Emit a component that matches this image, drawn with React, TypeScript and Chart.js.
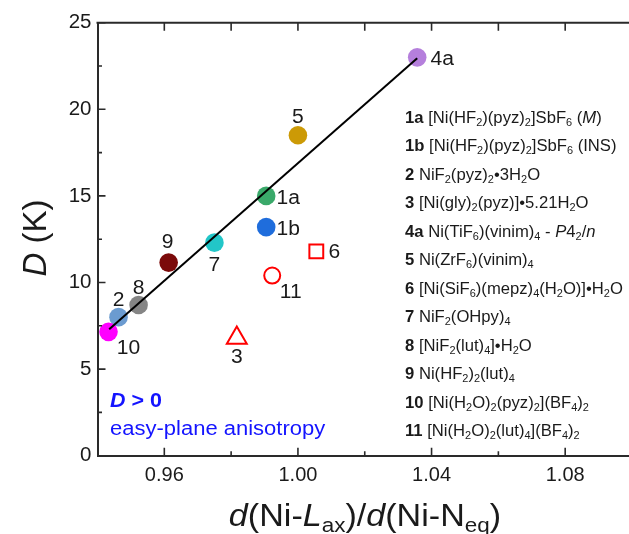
import React, { useEffect, useRef } from 'react';
import { Chart, registerables } from 'chart.js';

Chart.register(...registerables);

// ---------- data ----------
const COMPOUND_IDS = ['1a', '1b', '2', '3', '4a', '5', '6', '7', '8', '9', '10', '11'];
const RATIO_VALUES = [0.9905, 0.9905, 0.9463, 0.9817, 1.0357, 1.0, 1.0055, 0.975, 0.9523, 0.9613, 0.9433, 0.9923];
const D_VALUES = [15.0, 13.2, 8.0, 6.8, 23.0, 18.5, 11.8, 12.3, 8.7, 11.15, 7.15, 10.4];
const FIT_RATIO = [0.9435, 1.0357];
const FIT_D = [7.3, 22.95];

const X_TICKS = [0.96, 0.98, 1.0, 1.02, 1.04, 1.06, 1.08, 1.1];
const X_TICK_LABELS = ['0.96', '', '1.00', '', '1.04', '', '1.08', ''];
const Y_TICKS = [0, 2.5, 5, 7.5, 10, 12.5, 15, 17.5, 20, 22.5, 25];
const Y_TICK_LABELS = ['0', '', '5', '', '10', '', '15', '', '20', '', '25'];

const LEGEND_LABELS = [
  '**1a** [Ni(HF_2)(pyz)_2]SbF_6 (*M*)',
  '**1b** [Ni(HF_2)(pyz)_2]SbF_6 (INS)',
  '**2** NiF_2(pyz)_2•3H_2O',
  '**3** [Ni(gly)_2(pyz)]•5.21H_2O',
  '**4a** Ni(TiF_6)(vinim)_4 - *P*4_2/*n*',
  '**5** Ni(ZrF_6)(vinim)_4',
  '**6** [Ni(SiF_6)(mepz)_4(H_2O)]•H_2O',
  '**7** NiF_2(OHpy)_4',
  '**8** [NiF_2(lut)_4]•H_2O',
  '**9** Ni(HF_2)_2(lut)_4',
  '**10** [Ni(H_2O)_2(pyz)_2](BF_4)_2',
  '**11** [Ni(H_2O)_2(lut)_4](BF_4)_2',
];

const NOTE_LINE_1 = '***D* > 0**';
const NOTE_LINE_2 = 'easy-plane anisotropy';
const X_TITLE = '*d*(Ni-*L*_{ax})/*d*(Ni-N_{eq})';
const Y_TITLE = '*D* (K)';

// ---------- styles ----------
const FONT = '"Liberation Sans", Arial, Helvetica, sans-serif';
const POINT_COLORS: Record<string, string> = {
  '1a': '#3aa96a', '1b': '#1f6ddc', '2': '#6b9bd0', '3': '#ff0000', '4a': '#b57fdc', '5': '#cc9a06',
  '6': '#ff0000', '7': '#22c6c8', '8': '#858585', '9': '#7b0a0a', '10': '#ff00ff', '11': '#ff0000',
};
const POINT_STYLES: Record<string, string> = { '3': 'triangle', '6': 'rect', '11': 'circle' };
const OPEN_MARKERS = ['3', '6', '11'];
const POINT_RADII: Record<string, number> = { '3': 11.5, '6': 9.8, '11': 8 };
const LABEL_OFFSETS: Record<string, [number, number]> = {
  '1a': [22, 1], '1b': [22, 0.5], '2': [0, -18], '3': [0, 18.5], '4a': [25, 1], '5': [0, -19.5],
  '6': [18, 0], '7': [0, 21.5], '8': [0, -18], '9': [-1, -22], '10': [20, 14.7], '11': [18.5, 15.7],
};
const TEXT_COLOR = '#1a1a1a';
const AXIS_COLOR = '#2a2a2a';
const NOTE_COLOR = '#1414ff';

// ---------- rich text ----------
type Seg = { text: string; bold: boolean; italic: boolean; sub: boolean };
function parseRich(s: string): Seg[] {
  const segs: Seg[] = [];
  let bold = false, italic = false, buf = '';
  const flush = () => { if (buf) { segs.push({ text: buf, bold, italic, sub: false }); buf = ''; } };
  let i = 0;
  while (i < s.length) {
    if (s.startsWith('**', i)) { flush(); bold = !bold; i += 2; continue; }
    if (s[i] === '*') { flush(); italic = !italic; i += 1; continue; }
    if (s[i] === '_') {
      flush();
      let t = '';
      if (s[i + 1] === '{') { const e = s.indexOf('}', i); t = s.slice(i + 2, e); i = e + 1; }
      else { t = s[i + 1]; i += 2; }
      segs.push({ text: t, bold, italic, sub: true });
      continue;
    }
    buf += s[i]; i += 1;
  }
  flush();
  return segs;
}

function drawRich(ctx: CanvasRenderingContext2D, str: string, x: number, baseY: number, size: number,
  color: string, align: 'left' | 'center', sx: number, rot = 0) {
  const segs = parseRich(str);
  let w = 0;
  const items = segs.map((sg) => {
    const fs = sg.sub ? size * 0.66 : size;
    const font = `${sg.italic ? 'italic ' : ''}${sg.bold ? 'bold ' : ''}${fs}px ${FONT}`;
    ctx.font = font;
    const it = { text: sg.text, font, x: w, dy: sg.sub ? size * 0.2 : 0 };
    w += ctx.measureText(sg.text).width;
    return it;
  });
  ctx.save();
  ctx.translate(x, baseY);
  if (rot) ctx.rotate(rot);
  ctx.scale(sx, 1);
  ctx.fillStyle = color;
  ctx.textBaseline = 'alphabetic';
  ctx.textAlign = 'left';
  const x0 = align === 'center' ? -w / 2 : 0;
  items.forEach((it) => { ctx.font = it.font; ctx.fillText(it.text, x0 + it.x, it.dy); });
  ctx.restore();
}

const decorPlugin = {
  id: 'decor',
  afterDraw(chart: any) {
    const ctx: CanvasRenderingContext2D = chart.ctx;
    const { left, right, top, bottom } = chart.chartArea;
    const xs = chart.scales.x, ys = chart.scales.y;
    ctx.save();
    ctx.strokeStyle = AXIS_COLOR;
    ctx.lineWidth = 2;
    ctx.beginPath();
    ctx.moveTo(left - 1, top);
    ctx.lineTo(right + 20, top);
    ctx.stroke();
    ctx.lineWidth = 1.6;
    ctx.beginPath();
    X_TICKS.forEach((v, i) => {
      const px = xs.getPixelForValue(v);
      const len = X_TICK_LABELS[i] ? 8 : 4.5;
      ctx.moveTo(px, bottom); ctx.lineTo(px, bottom - len);
      ctx.moveTo(px, top); ctx.lineTo(px, top + 8);
    });
    Y_TICKS.forEach((v, i) => {
      const py = ys.getPixelForValue(v);
      const len = Y_TICK_LABELS[i] ? 8 : 4.5;
      ctx.moveTo(left, py); ctx.lineTo(left + len, py);
    });
    ctx.stroke();
    ctx.restore();

    // point labels
    const meta = chart.getDatasetMeta(1);
    COMPOUND_IDS.forEach((id, i) => {
      const el = meta.data[i];
      const [dx, dy] = LABEL_OFFSETS[id];
      drawRich(ctx, id, el.x + dx, el.y + dy + 19.5 * 0.36, 19.5, TEXT_COLOR, 'center', 1.08);
    });

    // legend text
    LEGEND_LABELS.forEach((s, i) => {
      drawRich(ctx, s, 405, 117 + 28.5 * i + 16 * 0.36, 16, TEXT_COLOR, 'left', 1.04);
    });

    // note
    drawRich(ctx, NOTE_LINE_1, 110, 400 + 19.5 * 0.36, 19.5, NOTE_COLOR, 'left', 1.1);
    drawRich(ctx, NOTE_LINE_2, 110, 428 + 20 * 0.36, 20, NOTE_COLOR, 'left', 1.1);

    // axis titles
    drawRich(ctx, X_TITLE, 365, 526, 31, TEXT_COLOR, 'center', 1.1);
    drawRich(ctx, Y_TITLE, 46, 238, 33, TEXT_COLOR, 'center', 1, -Math.PI / 2);
  },
};

export default function App() {
  const ref = useRef<HTMLCanvasElement>(null);
  useEffect(() => {
    if (!ref.current) return;
    const points = RATIO_VALUES.map((x, i) => ({ x, y: D_VALUES[i] }));
    const fit = FIT_RATIO.map((x, i) => ({ x, y: FIT_D[i] }));
    const chart = new Chart(ref.current, {
      type: 'scatter',
      data: {
        datasets: [
          {
            type: 'line',
            data: fit,
            borderColor: '#000000',
            borderWidth: 2,
            pointRadius: 0,
            fill: false,
          } as any,
          {
            data: points,
            pointStyle: COMPOUND_IDS.map((id) => POINT_STYLES[id] || 'circle') as any,
            pointRadius: COMPOUND_IDS.map((id) => POINT_RADII[id] || 9.3),
            pointBackgroundColor: COMPOUND_IDS.map((id) => (OPEN_MARKERS.includes(id) ? 'rgba(255,255,255,0)' : POINT_COLORS[id])),
            pointBorderColor: COMPOUND_IDS.map((id) => POINT_COLORS[id]),
            pointBorderWidth: COMPOUND_IDS.map((id) => (OPEN_MARKERS.includes(id) ? 2 : 0)),
          },
        ],
      },
      options: {
        animation: false,
        responsive: false,
        devicePixelRatio: 1,
        layout: { padding: { top: 22.7, right: 18, bottom: 0, left: 0 } },
        plugins: { legend: { display: false }, tooltip: { enabled: false } },
        scales: {
          x: {
            type: 'linear',
            min: 0.94,
            max: 1.1,
            afterBuildTicks: (s: any) => { s.ticks = X_TICKS.map((value) => ({ value })); },
            afterFit: (s: any) => { s.height = 534 - 455.7; },
            grid: { display: false, drawTicks: false },
            border: { display: true, color: AXIS_COLOR, width: 2 },
            ticks: {
              callback: (_v: any, i: number) => X_TICK_LABELS[i],
              font: { family: FONT, size: 20 },
              color: TEXT_COLOR,
              padding: 8,
              maxRotation: 0,
              autoSkip: false,
            },
          },
          y: {
            type: 'linear',
            min: 0,
            max: 25,
            afterBuildTicks: (s: any) => { s.ticks = Y_TICKS.map((value) => ({ value })); },
            afterFit: (s: any) => { s.width = 97.5; },
            grid: { display: false, drawTicks: false },
            border: { display: true, color: AXIS_COLOR, width: 2 },
            ticks: {
              callback: (_v: any, i: number) => Y_TICK_LABELS[i],
              font: { family: FONT, size: 20.5 },
              color: TEXT_COLOR,
              padding: 6,
              autoSkip: false,
            },
          },
        },
      },
      plugins: [decorPlugin],
    });
    return () => chart.destroy();
  }, []);
  return (
    <div style={{ position: 'absolute', left: 0, top: 0, width: 629, height: 534, overflow: 'hidden', background: '#fff' }}>
      <canvas ref={ref} width={650} height={534} style={{ display: 'block' }} />
    </div>
  );
}
